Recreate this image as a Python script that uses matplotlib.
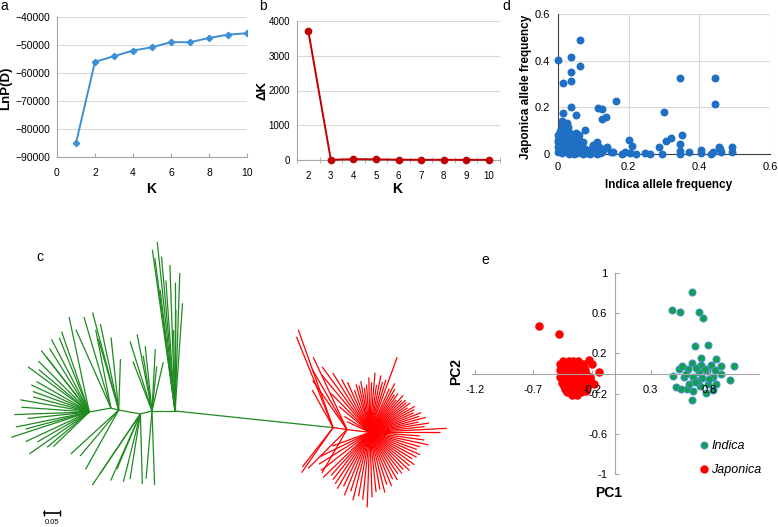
import numpy as np
import matplotlib
matplotlib.use('Agg')
import matplotlib.pyplot as plt
from matplotlib.lines import Line2D

plt.rcParams['font.family'] = ['Liberation Sans', 'DejaVu Sans']

# ---- panel a: LnP(D) by K
k_a = [1, 2, 3, 4, 5, 6, 7, 8, 9, 10]
lnp_d = [-85000, -56000, -54000, -52000, -50800, -49000, -49000, -47500, -46300, -45800]

# ---- panel b: delta K
k_b = [2, 3, 4, 5, 6, 7, 8, 9, 10]
delta_k = [3720, 5, 25, 20, 8, 6, 6, 5, 5]

# ---- panel d: allele frequencies
indica_freq = [0.000, 0.014, 0.038, 0.038, 0.038, 0.063, 0.063, 0.038, 0.014, 0.050,
               0.112, 0.125, 0.125, 0.135, 0.164, 0.300, 0.345, 0.445, 0.445, 0.200,
               0.210, 0.287, 0.307, 0.321, 0.351, 0.345, 0.076, 0.052, 0.000,
               0.010, 0.012, 0.020, 0.028, 0.005, 0.015, 0.030, 0.040, 0.020, 0.010,
               0.000, 0.025, 0.035, 0.045, 0.060, 0.055, 0.040, 0.020, 0.005, 0.000,
               0.015, 0.030, 0.050, 0.065, 0.075, 0.085, 0.095, 0.100, 0.115, 0.105,
               0.120, 0.130, 0.140, 0.000, 0.010, 0.020, 0.030, 0.040, 0.055, 0.065,
               0.070, 0.080, 0.090, 0.110, 0.125, 0.150, 0.045, 0.035, 0.060, 0.070,
               0.025, 0.000, 0.008,
               0.155, 0.190, 0.205, 0.245, 0.260, 0.295, 0.345, 0.345, 0.372, 0.406,
               0.406, 0.432, 0.438, 0.455, 0.458, 0.460, 0.493, 0.493, 0.180, 0.220, 0.110]
japonica_freq = [0.403, 0.306, 0.414, 0.353, 0.314, 0.489, 0.379, 0.203, 0.177, 0.169,
                 0.196, 0.191, 0.150, 0.160, 0.229, 0.181, 0.327, 0.327, 0.214, 0.060,
                 0.034, 0.031, 0.057, 0.069, 0.081, 0.043, 0.103, 0.089, 0.081,
                 0.140, 0.120, 0.110, 0.115, 0.100, 0.095, 0.095, 0.080, 0.080, 0.070,
                 0.060, 0.065, 0.060, 0.070, 0.060, 0.045, 0.045, 0.050, 0.040, 0.030,
                 0.030, 0.030, 0.025, 0.030, 0.020, 0.015, 0.025, 0.040, 0.030, 0.010,
                 0.005, 0.020, 0.030, 0.010, 0.005, 0.015, 0.000, 0.010, 0.005, 0.010,
                 0.000, 0.005, 0.000, 0.000, 0.010, 0.010, 0.000, 0.020, 0.080, 0.050,
                 0.135, 0.050, 0.020,
                 0.010, 0.008, 0.003, 0.006, 0.000, 0.001, 0.014, 0.000, 0.010, 0.017,
                 0.006, 0.000, 0.010, 0.031, 0.022, 0.008, 0.029, 0.010, 0.000, 0.000, 0.050]

# ---- panel e: PCA
indica_pc1 = [0.68, 0.79, 0.73, 0.86, 0.65, 0.73, 0.81, 0.90, 1.01, 0.54, 0.62, 0.71,
              0.78, 0.90, 0.49, 0.58, 0.66, 0.74, 0.83, 0.98, 0.52, 0.56, 0.61, 0.66,
              0.77, 0.65, 0.83, 0.79, 0.63, 0.72, 0.86, 0.65, 0.48, 0.55, 0.71, 0.75,
              0.69, 0.76, 0.60, 0.85, 0.70, 0.80, 0.68, 0.57]
indica_pc2 = [0.27, 0.28, 0.15, 0.14, 0.10, 0.08, 0.08, 0.07, 0.07, 0.045, 0.04, 0.015,
              0.02, -0.004, -0.025, -0.03, -0.03, -0.04, -0.03, -0.065, -0.13, -0.15, -0.15, -0.17,
              -0.19, -0.26, -0.16, -0.10, -0.10, -0.12, -0.10, 0.81, 0.63, 0.61, 0.61, 0.55,
              0.05, 0.04, 0.00, 0.03, -0.07, -0.05, -0.08, 0.07]
japonica_pc1 = [-0.65, -0.48, -0.23, -0.20, -0.14, -0.22, -0.18, -0.25,
                -0.45, -0.40, -0.36, -0.32,
                -0.47, -0.43, -0.39, -0.35, -0.31, -0.28,
                -0.46, -0.42, -0.38, -0.34, -0.30, -0.27,
                -0.47, -0.43, -0.39, -0.35, -0.31, -0.26,
                -0.46, -0.42, -0.38, -0.34, -0.30, -0.25,
                -0.47, -0.43, -0.39, -0.35, -0.31, -0.27, -0.22,
                -0.45, -0.41, -0.37, -0.33, -0.29, -0.24,
                -0.46, -0.42, -0.38, -0.34, -0.30, -0.20,
                -0.44, -0.40, -0.36, -0.32, -0.28, -0.24,
                -0.43, -0.39, -0.35, -0.31, -0.27,
                -0.41, -0.37, -0.33, -0.29,
                -0.37, -0.33]
japonica_pc2 = [0.47, 0.39, 0.13, 0.09, 0.01, -0.05, -0.10, -0.17,
                0.12, 0.12, 0.12, 0.12,
                0.09, 0.09, 0.09, 0.09, 0.09, 0.09,
                0.06, 0.06, 0.06, 0.06, 0.06, 0.06,
                0.03, 0.03, 0.03, 0.03, 0.03, 0.03,
                0.00, 0.00, 0.00, 0.00, 0.00, 0.00,
                -0.03, -0.03, -0.03, -0.03, -0.03, -0.03, -0.03,
                -0.06, -0.06, -0.06, -0.06, -0.06, -0.06,
                -0.09, -0.09, -0.09, -0.09, -0.09, -0.09,
                -0.12, -0.12, -0.12, -0.12, -0.12, -0.12,
                -0.15, -0.15, -0.15, -0.15, -0.15,
                -0.18, -0.18, -0.18, -0.18,
                -0.21, -0.21]

# ---- panel c: unrooted tree, branch lengths where 16 = 0.05 substitutions
SCALE_LEN = 16
tree_nodes = [  # name, parent, angle (deg), length
    ('g1', 'root', 180, 12), ('g2', 'g1', 180, 11), ('g3', 'g2', 194, 12),
    ('g4', 'g3', 170, 22), ('g5', 'g4', 166, 8), ('g6', 'g5', 190, 22),
    ('r0', 'root', -6, 159), ('r1', 'r0', -8, 14), ('rc', 'r1', -7, 23),
]
node_colors = {'g1': 'g', 'g2': 'g', 'g3': 'g', 'g4': 'g', 'g5': 'g', 'g6': 'g',
               'r0': 'g', 'r1': 'r', 'rc': 'r'}
tip_groups = [  # node, tip angles, tip lengths, clade
    ('root', [96, 98, 95, 97.5, 92, 88, 94, 86, 89.5, 90, 97, 91],
     [170, 163, 155, 154, 146, 138, 131, 108, 101, 129, 122, 81], 'g'),
    ('g2', [101, 107.5, 96, 87, 77, 111, 99, 84], [78, 73, 65, 62, 50, 53, 56, 45], 'g'),
    ('g4', [96, 105, 102, 88, 106], [73, 101, 88, 51, 74], 'g'),
    ('g5', [114, 106.5, 101], [86, 95, 80], 'g'),
    ('g6', [102, 109, 117.5, 128, 143.6, 150, 182, 198, 215, 224, 176, 191.6, 128, 135,
            160, 170, 205, 112, 122, 140, 155, 165, 186, 195, 210, 220],
     [97, 85, 82, 78, 76, 61, 75, 82, 73, 50, 68, 75, 70, 72, 60, 70, 70, 80, 75, 66,
      64, 58, 62, 66, 60, 55], 'g'),
    ('g3', [236, 256, 271.6, 236, 247, 261, 246], [86, 70, 70, 72, 60, 66, 73], 'g'),
    ('g2', [272, 265], [74, 68], 'g'),
    ('g4', [222.5, 240.8, 230], [65, 68, 60], 'g'),
    ('r0', [109.6, 112, 119, 235, 232], [104, 98, 43, 55, 50], 'r'),
    ('r1', [115, 120, 125, 225, 240], [80, 70, 60, 55, 50], 'r'),
    ('rc', [0, 3, 6, 9, 12, 15, 18, 21, 24, 27, 30, 33, 36, 39, 42, 45, 48, 51, 54, 57,
            60, 63, 66, 70, 73, 76, 79, 82, 85, 88, 91, 94, 97, 100, 103, 106, 110, 114,
            118, 122, 126, 130, 135, 140, 148, 155,
            200, 206, 212, 218, 224, 228, 232, 236, 240, 244, 248, 252, 256, 260, 264,
            268, 272, 276, 280, 284, 288, 292, 296, 300, 304, 308, 312, 316, 320, 324,
            328, 332, 336, 340, 344, 348, 352, 356],
     [70, 77, 55, 60, 50, 58, 52, 55, 48, 50, 52, 45, 50, 47, 48, 45, 50, 42, 48, 45,
      50, 55, 48, 80, 55, 52, 58, 48, 60, 50, 55, 48, 45, 52, 48, 50, 45, 55,
      60, 70, 81, 75, 55, 40, 30, 25,
      40, 55, 60, 62, 65, 58, 60, 62, 65, 60, 68, 62, 70, 65, 68,
      75, 65, 60, 58, 62, 55, 58, 52, 55, 50, 52, 50, 55, 52, 55,
      50, 53, 55, 50, 52, 60, 55, 50], 'r'),
]

GREEN = '#1f8a1f'
RED = '#ff0000'
GRID = '#d9d9d9'
SPINE = '#a6a6a6'
W, H = 778, 527


def fpos(px, py):
    return px / W, 1 - py / H


fig = plt.figure(figsize=(7.78, 5.27), dpi=100)

# ---------------- a
ax = fig.add_axes([57 / W, 1 - 157 / H, 190 / W, 140 / H])
ax.plot(k_a, lnp_d, color='#3d8fd6', lw=1.4, marker='D', ms=3.2)
ax.set_xlim(0, 10)
ax.set_ylim(-90000, -40000)
ax.set_xticks([0, 2, 4, 6, 8, 10])
ax.set_yticks(range(-90000, -39999, 10000))
ax.grid(axis='y', color=GRID, lw=0.8)
ax.set_axisbelow(True)
for s in ['top', 'right']:
    ax.spines[s].set_visible(False)
for s in ['left', 'bottom']:
    ax.spines[s].set_color(SPINE)
ax.tick_params(axis='x', direction='in', length=3, color=SPINE, pad=8, labelsize=7.5)
ax.tick_params(axis='y', length=0, pad=5, labelsize=7.5)
fig.text(*fpos(6, 88), 'LnP(D)', rotation=90, ha='center', va='center',
         fontsize=9.5, fontweight='bold')
fig.text(*fpos(151, 189), 'K', ha='center', va='center', fontsize=10, fontweight='bold')

# ---------------- b
ax = fig.add_axes([297 / W, 1 - 160 / H, 203 / W, 139 / H])
ax.plot(k_b, delta_k, color='#c00000', lw=1.4, marker='o', ms=4.5, clip_on=False, zorder=3)
ax.set_xlim(1.5, 10.5)
ax.set_ylim(0, 4000)
ax.set_xticks(k_b)
ax.set_xticks(np.arange(1.5, 10.6, 1), minor=True)
ax.set_yticks([0, 1000, 2000, 3000, 4000])
ax.grid(axis='y', color=GRID, lw=0.8)
ax.set_axisbelow(True)
for s in ['top', 'right']:
    ax.spines[s].set_visible(False)
for s in ['left', 'bottom']:
    ax.spines[s].set_color(SPINE)
ax.tick_params(axis='x', which='major', length=0, pad=8, labelsize=7)
ax.tick_params(axis='x', which='minor', direction='inout', length=4, color=SPINE)
ax.tick_params(axis='y', length=0, pad=5, labelsize=7)
fig.text(*fpos(262, 90), 'ΔK', rotation=90, ha='center', va='center',
         fontsize=9.5, fontweight='bold')
fig.text(*fpos(397, 189), 'K', ha='center', va='center', fontsize=10, fontweight='bold')

# ---------------- d
ax = fig.add_axes([558 / W, 1 - 154 / H, 212 / W, 140 / H])
ax.scatter(indica_freq, japonica_freq, s=22, color='#1f6fc5', zorder=3, clip_on=False)
ax.set_xlim(0, 0.6)
ax.set_ylim(0, 0.6)
ax.set_xticks([0, 0.2, 0.4, 0.6])
ax.set_yticks([0, 0.2, 0.4, 0.6])
ax.set_xticklabels(['0', '0.2', '0.4', '0.6'])
ax.set_yticklabels(['0', '0.2', '0.4', '0.6'])
ax.grid(color=GRID, lw=0.8)
ax.set_axisbelow(True)
for s in ['top', 'right']:
    ax.spines[s].set_visible(False)
ax.spines['left'].set_color('#404040')
ax.spines['bottom'].set_color('#404040')
ax.tick_params(length=0, pad=6, labelsize=8)
fig.text(*fpos(526, 87), 'Japonica allele frequency', rotation=90, ha='center',
         va='center', fontsize=8.5, fontweight='bold')
fig.text(*fpos(669, 185), 'Indica allele frequency', ha='center', va='center',
         fontsize=8.5, fontweight='bold')

# ---------------- c (tree)
ax = fig.add_axes([0, 0, 460 / W, 302 / H])
ax.set_xlim(-175, 285)
ax.set_ylim(-116, 186)
ax.axis('off')
clade_col = {'g': GREEN, 'r': RED}
pos = {'root': (0.0, 0.0)}
for name, parent, ang, ln in tree_nodes:
    x0, y0 = pos[parent]
    a = np.radians(ang)
    x1, y1 = x0 + ln * np.cos(a), y0 + ln * np.sin(a)
    pos[name] = (x1, y1)
    ax.plot([x0, x1], [y0, y1], color=clade_col[node_colors[name]], lw=0.9,
            solid_capstyle='butt')
for node, angs, lens, clade in tip_groups:
    x0, y0 = pos[node]
    for ang, ln in zip(angs, lens):
        a = np.radians(ang)
        ax.plot([x0, x0 + ln * np.cos(a)], [y0, y0 + ln * np.sin(a)],
                color=clade_col[clade], lw=0.9, solid_capstyle='butt')
ax.plot([-131, -131 + SCALE_LEN], [-102, -102], color='k', lw=1.2, marker='|', ms=4)
ax.text(-123, -111, '0.05', ha='center', va='center', fontsize=5.5)

# ---------------- e (PCA)
ax = fig.add_axes([472.4 / W, 1 - 474 / H, 286.2 / W, 201 / H])
ax.scatter(japonica_pc1, japonica_pc2, s=26, color='#ff0000', zorder=1, clip_on=False)
ax.scatter(indica_pc1, indica_pc2, s=26, color='#10a050', edgecolors='#4a90d0',
           linewidths=0.7, zorder=1, clip_on=False)
ax.set_xlim(-1.22, 1.22)
ax.set_ylim(-1, 1)
ax.spines['left'].set_position(('data', 0))
ax.spines['bottom'].set_position(('data', 0))
for s in ['top', 'right']:
    ax.spines[s].set_visible(False)
for s in ['left', 'bottom']:
    ax.spines[s].set_color(SPINE)
ax.set_xticks([-1.2, -0.7, -0.2, 0.3, 0.8])
ax.set_xticklabels(['-1.2', '-0.7', '-0.2', '0.3', '0.8'])
ax.set_yticks([-1, -0.6, -0.2, 0.2, 0.6, 1])
ax.set_yticklabels(['-1', '-0.6', '-0.2', '0.2', '0.6', '1'])
ax.tick_params(axis='x', direction='in', length=3, color=SPINE, pad=8, labelsize=8)
ax.tick_params(axis='y', direction='in', length=3, color=SPINE, pad=6, labelsize=8)
fig.text(*fpos(456, 372), 'PC2', rotation=90, ha='center', va='center',
         fontsize=10, fontweight='bold')
fig.text(*fpos(609, 493), 'PC1', ha='center', va='center', fontsize=10, fontweight='bold')
handles = [Line2D([], [], ls='', marker='o', ms=5, color='#10a050', mec='#4a90d0', mew=0.7),
           Line2D([], [], ls='', marker='o', ms=5, color='#ff0000')]
fig.legend(handles, ['Indica', 'Japonica'], loc='upper left',
           bbox_to_anchor=fpos(700, 440), frameon=False, handlelength=0.6,
           handletextpad=0.3, borderpad=0, borderaxespad=0, labelspacing=0.95,
           prop={'style': 'italic', 'size': 9})

# panel letters
for letter, (px, py) in zip('abcde', [(4.5, 5.5), (263, 6.5), (40, 257), (506, 6.5), (485, 260)]):
    fig.text(*fpos(px, py), letter, ha='center', va='center', fontsize=10)

fig.savefig('out.png', dpi=100)
